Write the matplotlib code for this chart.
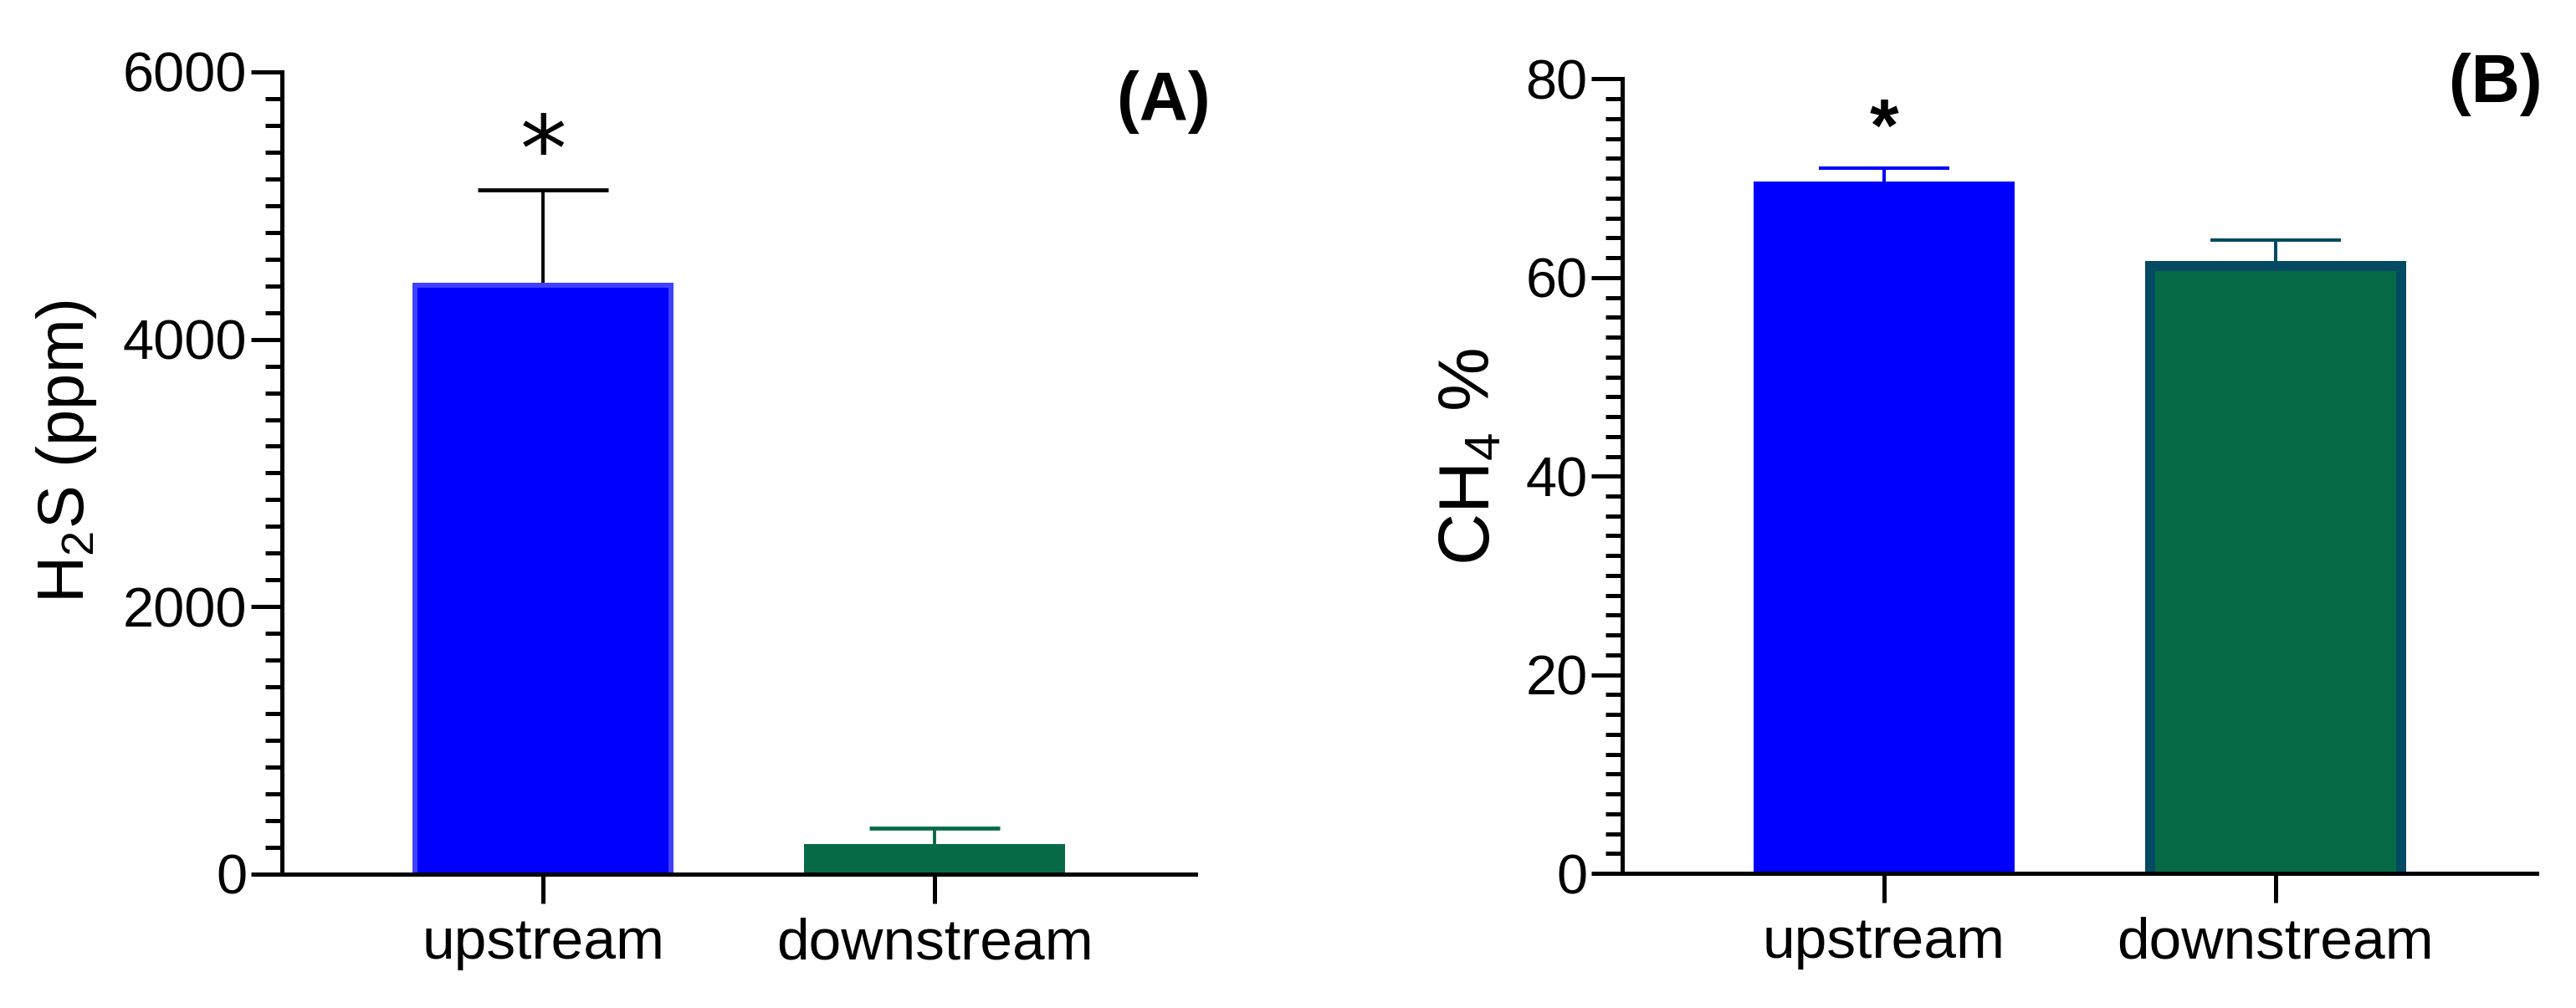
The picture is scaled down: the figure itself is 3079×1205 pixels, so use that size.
import matplotlib.pyplot as plt
from matplotlib.ticker import MultipleLocator
import numpy as np

plt.rcParams['font.family'] = ['Liberation Sans', 'DejaVu Sans']
plt.rcParams['mathtext.fontset'] = 'custom'
plt.rcParams['mathtext.rm'] = 'Liberation Sans'

# data (mean, upper error)
sites = ['upstream', 'downstream']
h2s_mean = [4420, 225]
h2s_err = [700, 119]
ch4_mean = [69.7, 61.7]
ch4_err = [1.3, 2.1]

BLUE = '#0000FF'
LIGHTBLUE = '#4040FF'
GREEN = '#076A46'
TEAL = '#054A63'


def styleAxis(ax, ymax, major, minor):
    for s in ['top', 'right']:
        ax.spines[s].set_visible(False)
    for s in ['left', 'bottom']:
        ax.spines[s].set_linewidth(3.6)
        ax.spines[s].set_zorder(5)
    ax.set_xlim(-0.667, 1.667)
    ax.set_ylim(0, ymax)
    ax.yaxis.set_major_locator(MultipleLocator(major))
    ax.yaxis.set_minor_locator(MultipleLocator(minor))
    ax.tick_params(axis='y', which='major', length=26.6, width=3.6, labelsize=48, pad=3.6)
    ax.tick_params(axis='y', which='minor', length=14.4, width=3.6)
    ax.tick_params(axis='x', length=25, width=3.6, labelsize=50, pad=12)
    ax.set_xticks(np.arange(len(sites)), sites)


def drawBars(ax, means, errs, fills, edges, edgeWidths, errColors, errWidth, capThick):
    x = np.arange(len(means))
    for i in range(len(means)):
        eb = ax.errorbar(x[i], means[i], yerr=[[0], [errs[i]]], fmt='none', ecolor=errColors[i],
                         elinewidth=errWidth, capsize=56.5, capthick=capThick, zorder=1)
        eb[1][0].set_visible(False)  # no cap at the mean
        bar = ax.bar(x[i], means[i], width=0.667, color=fills[i], linewidth=0, zorder=2)[0]
        if edgeWidths[i] > 0:
            # border on left, top and right only, kept inside the bar
            x0 = bar.get_x()
            x1 = x0 + bar.get_width()
            h = bar.get_height()
            ln, = ax.plot([x0, x0, x1, x1], [0, h, h, 0], color=edges[i], lw=edgeWidths[i],
                          solid_joinstyle='miter', zorder=3)
            ln.set_clip_path(bar)


fig = plt.figure(figsize=(30.79, 12.05), dpi=100)
axA = fig.add_axes([0.1095, 0.1328, 0.3547, 0.7959])
axB = fig.add_axes([0.6299, 0.1336, 0.3548, 0.7880])

# panel A: H2S
styleAxis(axA, 6000, 2000, 200)
drawBars(axA, h2s_mean, h2s_err, [BLUE, GREEN], [LIGHTBLUE, GREEN], [8.6, 0],
         ['black', GREEN], 2.8, 3.4)
axA.set_ylabel(r'$\mathregular{H_2S}$ (ppm)', fontsize=56, va='center')
axA.yaxis.set_label_coords(-0.2363, 0.5266)
axA.annotate('*', xy=(0, h2s_mean[0] + h2s_err[0]), xytext=(0, -10), textcoords='offset points',
             ha='center', va='bottom', fontsize=80, family=['DejaVu Sans'])

# panel B: CH4
styleAxis(axB, 80, 20, 2)
drawBars(axB, ch4_mean, ch4_err, [BLUE, GREEN], [BLUE, TEAL], [0, 17.3],
         [BLUE, TEAL], 2.9, 2.9)
axB.set_ylabel(r'$\mathregular{CH_4}$ %', fontsize=62, va='center')
axB.yaxis.set_label_coords(-0.1670, 0.5245)
axB.annotate('*', xy=(0, ch4_mean[0] + ch4_err[0]), xytext=(0, 2), textcoords='offset points',
             ha='center', va='bottom', fontsize=64, fontweight='bold')

fig.text(1447 / 3079, 1 - 143 / 1205, '(A)', ha='right', va='baseline', fontsize=58, fontweight='bold')
fig.text(3039 / 3079, 1 - 122 / 1205, '(B)', ha='right', va='baseline', fontsize=58, fontweight='bold')

fig.savefig('out.png', dpi=100)
